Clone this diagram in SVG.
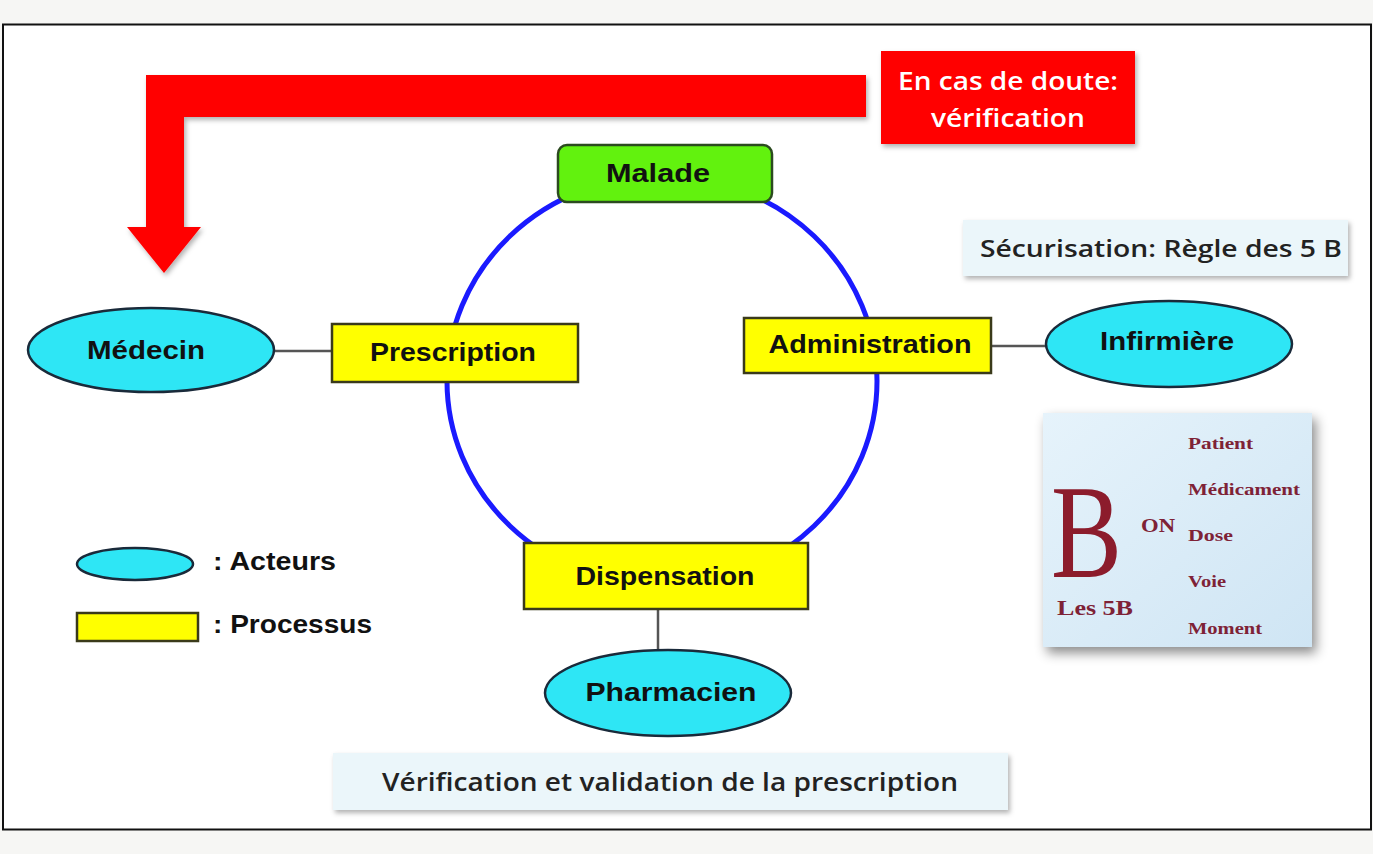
<svg xmlns="http://www.w3.org/2000/svg" width="1373" height="854" viewBox="0 0 1373 854">
<defs>
<style>
.lbl{font-family:"Liberation Sans",Arial,sans-serif;font-weight:bold;font-size:25px;fill:#111;text-anchor:middle}
.leg{font-family:"Liberation Sans",Arial,sans-serif;font-weight:bold;font-size:25px;fill:#111}
.cal{font-family:"Open Sans","Liberation Sans",sans-serif;font-weight:600;fill:#222}
.proc{fill:#ffff00;stroke:#3a3a1a;stroke-width:2.5}
.act{fill:#2ee6f5;stroke:#1a2a3a;stroke-width:2.5}
.link{stroke:#555;stroke-width:2.5;fill:none}
.ser{font-family:"Liberation Serif","Times New Roman",serif;font-weight:bold;fill:#7e2236}
</style>
<filter id="sh" x="-10%" y="-20%" width="130%" height="150%">
<feDropShadow dx="2" dy="3" stdDeviation="2.5" flood-color="#000" flood-opacity="0.3"/>
</filter>
<filter id="sh2" x="-15%" y="-15%" width="140%" height="140%">
<feDropShadow dx="4" dy="6" stdDeviation="6" flood-color="#000" flood-opacity="0.45"/>
</filter>
<linearGradient id="bg5" x1="0" y1="0" x2="1" y2="1">
<stop offset="0" stop-color="#e6f3fb"/>
<stop offset="1" stop-color="#cfe5f4"/>
</linearGradient>
</defs>
<rect x="0" y="0" width="1373" height="854" fill="#f6f6f4"/>
<rect x="3" y="24.5" width="1368" height="805" fill="#fff" stroke="#111" stroke-width="2"/>

<g id="connectors">
<ellipse cx="662" cy="381" rx="215" ry="205" fill="none" stroke="#1a1aff" stroke-width="5"/>
<line class="link" x1="274" y1="351" x2="332" y2="351"/>
<line class="link" x1="991" y1="346" x2="1046" y2="346"/>
<line class="link" x1="658" y1="609" x2="658" y2="651"/>
</g>

<g id="red-arrow">
<path d="M866,75 L146,75 L146,227 L127,227 L164,273 L201,227 L184,227 L184,117 L866,117 Z" fill="#ff0000" filter="url(#sh)"/>
</g>

<g id="doute">
<rect x="881" y="51" width="254" height="93" fill="#ff0000" filter="url(#sh)"/>
<text class="cal" x="1008" y="90" font-size="25" style="fill:#fff" text-anchor="middle" textLength="220" lengthAdjust="spacingAndGlyphs">En cas de doute:</text>
<text class="cal" x="1008" y="127" font-size="25" style="fill:#fff" text-anchor="middle" textLength="154" lengthAdjust="spacingAndGlyphs">vérification</text>
</g>

<g id="malade">
<rect x="558" y="145" width="214" height="57" rx="9" fill="#62f20e" stroke="#2b4a1f" stroke-width="2.5"/>
<text class="lbl" x="658" y="182" textLength="104" lengthAdjust="spacingAndGlyphs">Malade</text>
</g>

<g id="prescription">
<rect class="proc" x="332" y="324" width="246" height="58"/>
<text class="lbl" x="453" y="361" textLength="166" lengthAdjust="spacingAndGlyphs">Prescription</text>
</g>

<g id="medecin">
<ellipse class="act" cx="151" cy="350" rx="123" ry="42"/>
<text class="lbl" x="146" y="359" textLength="118" lengthAdjust="spacingAndGlyphs">Médecin</text>
</g>

<g id="administration">
<rect class="proc" x="744" y="318" width="247" height="55"/>
<text class="lbl" x="870" y="353" textLength="203" lengthAdjust="spacingAndGlyphs">Administration</text>
</g>

<g id="infirmiere">
<ellipse class="act" cx="1169" cy="344" rx="123" ry="43"/>
<text class="lbl" x="1167" y="350" textLength="134" lengthAdjust="spacingAndGlyphs">Infirmière</text>
</g>

<g id="dispensation">
<rect class="proc" x="524" y="543" width="284" height="66"/>
<text class="lbl" x="665" y="585" textLength="179" lengthAdjust="spacingAndGlyphs">Dispensation</text>
</g>

<g id="pharmacien">
<ellipse class="act" cx="668" cy="693" rx="123" ry="43"/>
<text class="lbl" x="671" y="701" textLength="171" lengthAdjust="spacingAndGlyphs">Pharmacien</text>
</g>

<g id="securisation">
<rect x="963" y="220" width="385" height="56" fill="#ebf6fa" filter="url(#sh)"/>
<text class="cal" x="980" y="257" font-size="24" textLength="362" lengthAdjust="spacingAndGlyphs">Sécurisation: Règle des 5 B</text>
</g>

<g id="regle-5b">
<rect x="1043" y="413" width="269" height="234" fill="url(#bg5)" filter="url(#sh2)"/>
<text class="ser" x="1051" y="577" font-size="134" textLength="71" lengthAdjust="spacingAndGlyphs" style="font-weight:normal;fill:#8c1c2c">B</text>
<text class="ser" x="1141" y="532" font-size="19" textLength="34" lengthAdjust="spacingAndGlyphs">ON</text>
<text class="ser" x="1057" y="615" font-size="21" textLength="76" lengthAdjust="spacingAndGlyphs">Les 5B</text>
<text class="ser" x="1188" y="449" font-size="17" textLength="65" lengthAdjust="spacingAndGlyphs">Patient</text>
<text class="ser" x="1188" y="495" font-size="17" textLength="112" lengthAdjust="spacingAndGlyphs">Médicament</text>
<text class="ser" x="1188" y="541" font-size="17" textLength="45" lengthAdjust="spacingAndGlyphs">Dose</text>
<text class="ser" x="1188" y="587" font-size="17" textLength="38" lengthAdjust="spacingAndGlyphs">Voie</text>
<text class="ser" x="1188" y="634" font-size="17" textLength="74" lengthAdjust="spacingAndGlyphs">Moment</text>
</g>

<g id="legende">
<ellipse class="act" cx="135" cy="564" rx="58" ry="16"/>
<text class="leg" x="213" y="570" textLength="123" lengthAdjust="spacingAndGlyphs">: Acteurs</text>
<rect class="proc" x="77" y="613" width="121" height="28"/>
<text class="leg" x="213" y="633" textLength="159" lengthAdjust="spacingAndGlyphs">: Processus</text>
</g>

<g id="validation">
<rect x="333" y="753" width="675" height="57" fill="#ebf6fa" filter="url(#sh)"/>
<text class="cal" x="382" y="791" font-size="25" textLength="576" lengthAdjust="spacingAndGlyphs">Vérification et validation de la prescription</text>
</g>
</svg>
